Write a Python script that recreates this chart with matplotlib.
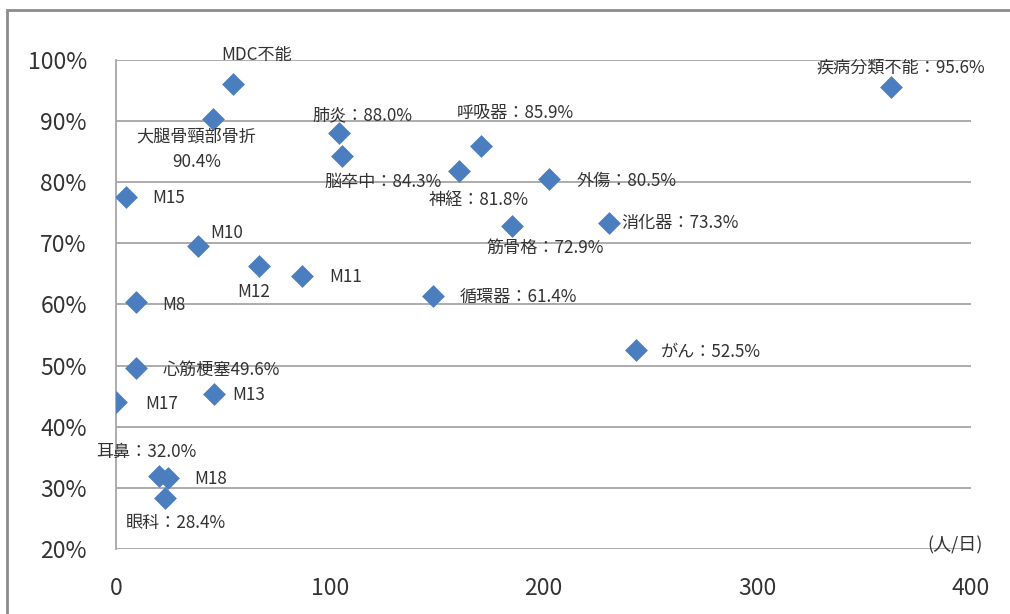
import matplotlib
matplotlib.use("Agg")
import matplotlib.pyplot as plt
from matplotlib import patches

plt.rcParams['font.family'] = ['Noto Sans CJK JP', 'DejaVu Sans']

## Data: patients per day (x) vs. rate (y, %)
names = ['MDC不能', '大腿骨頸部骨折', '肺炎', '脳卒中', '呼吸器', '神経', '外傷',
         '筋骨格', '消化器', '疾病分類不能', 'M15', 'M10', 'M12', 'M11', '循環器',
         'M8', 'がん', '心筋梗塞', 'M17', 'M13', '耳鼻', 'M18', '眼科']
patients = [54.7, 45.4, 104.3, 105.7, 170.8, 160.5, 202.6,
            185.3, 230.6, 362.6, 4.7, 38.4, 66.9, 87.0, 148.3,
            9.4, 243.3, 9.4, 0.0, 45.8, 20.1, 24.3, 22.9]
rates = [96.1, 90.4, 88.0, 84.3, 85.9, 81.8, 80.5,
         72.9, 73.3, 95.6, 77.6, 69.6, 66.3, 64.7, 61.4,
         60.4, 52.5, 49.6, 44.0, 45.4, 32.0, 31.6, 28.4]
labels = ['MDC不能', '大腿骨頸部骨折\n90.4%', '肺炎：88.0%', '脳卒中：84.3%',
          '呼吸器：85.9%', '神経：81.8%', '外傷：80.5%', '筋骨格：72.9%',
          '消化器：73.3%', '疾病分類不能：95.6%', 'M15', 'M10', 'M12', 'M11',
          '循環器：61.4%', 'M8', 'がん：52.5%', '心筋梗塞49.6%', 'M17', 'M13',
          '耳鼻：32.0%', 'M18', '眼科：28.4%']

# label placement (offset in points, horizontal alignment)
offsets = [(17, 21, 'center'), (-12, -22, 'center'), (17, 13, 'center'), (30, -19, 'center'),
           (25, 24, 'center'), (14, -21, 'center'), (20, -1, 'left'), (24, -16, 'center'),
           (9, 0, 'left'), (7, 14, 'center'), (19, -1, 'left'), (9, 9, 'left'),
           (-4, -19, 'center'), (20, -1, 'left'), (19, -1, 'left'),
           (19, -2, 'left'), (18, -1, 'left'), (19, -1, 'left'), (21, -1, 'left'), (13, -1, 'left'),
           (-9, 17, 'center'), (19, -1, 'left'), (8, -18, 'center')]

blue = '#4A7EBE'
grid_gray = '#A6A6A6'

fig = plt.figure(figsize=(10.1, 6.14), dpi=100)
ax = fig.add_axes([116/1010, 1 - 549/614, 855/1010, 489/614])

ax.scatter(patients, rates, marker='D', s=135, color=blue, linewidths=0, zorder=3)

for x, y, lab, (dx, dy, ha) in zip(patients, rates, labels, offsets):
    ax.annotate(lab, (x, y), xytext=(dx, dy), textcoords='offset points',
                ha=ha, va='center', fontsize=12.3, color='#333333',
                linespacing=1.5, zorder=4)

ax.set_xlim(0, 400)
ax.set_ylim(20, 100)
ax.set_xticks([0, 100, 200, 300, 400])
ax.set_yticks(range(20, 101, 10))
ax.set_yticklabels([f'{v}%' for v in range(20, 101, 10)])
ax.tick_params(axis='both', length=0, labelsize=16.5, colors='#333333')
ax.tick_params(axis='x', pad=20)
ax.tick_params(axis='y', pad=21)

ax.grid(axis='y', color=grid_gray, linewidth=1.3)
ax.set_axisbelow(True)
for side in ['top', 'right', 'bottom']:
    ax.spines[side].set_visible(False)
ax.spines['left'].set_color(grid_gray)
ax.spines['left'].set_linewidth(1.3)

ax.text(0.981, 0.008, '(人/日)', transform=ax.transAxes, ha='center', va='center',
        fontsize=13, color='#333333')

## outer chart frame (left and top edges visible)
frame = patches.Rectangle((7/1010, -0.05), 1.1, 1 - 10/614 + 0.05, transform=fig.transFigure,
                          fill=False, edgecolor='#8C8C8C', linewidth=2)
fig.add_artist(frame)

fig.savefig('out.png', dpi=100)
